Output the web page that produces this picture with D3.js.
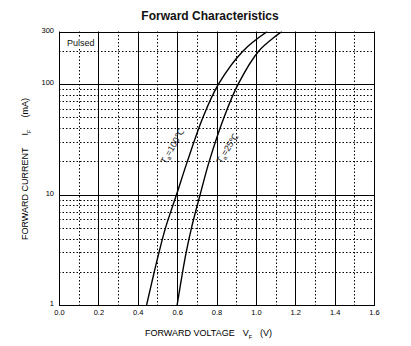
<!DOCTYPE html>
<html>
<head>
<meta charset="utf-8">
<script src="https://cdn.jsdelivr.net/npm/d3@7"></script>
<style>
  html, body { margin: 0; padding: 0; background: #fff; }
  svg { display: block; font-family: "Liberation Sans", Arial, sans-serif; }
</style>
</head>
<body>
<svg id="chart" width="411" height="346"></svg>
<script>
// Forward voltage (V) vs forward current (mA), pulsed measurement
const current100 = [1, 2, 3, 5, 10, 20, 50, 100, 200, 300];
const voltage100 = [0.445, 0.484, 0.508, 0.541, 0.597, 0.652, 0.731, 0.810, 0.935, 1.058];
const current25 = [1, 2, 3, 5, 10, 20, 50, 100, 200, 300];
const voltage25 = [0.600, 0.628, 0.646, 0.673, 0.717, 0.763, 0.838, 0.910, 1.015, 1.132];

const xTicks = [0.0, 0.2, 0.4, 0.6, 0.8, 1.0, 1.2, 1.4, 1.6];
const xMinor = [0.1, 0.3, 0.5, 0.7, 0.9, 1.1, 1.3, 1.5];
const yTicks = [1, 10, 100, 300];
const yMajor = [10, 100];
const yMinor = [2, 3, 4, 5, 6, 7, 8, 9, 20, 30, 40, 50, 60, 70, 80, 90, 200];

const svg = d3.select("#chart");
const plotLeft = 59, plotRight = 374, plotTop = 31.5, plotBottom = 305;

const x = d3.scaleLinear().domain([0, 1.6]).range([plotLeft, plotRight]);
const y = d3.scaleLog().domain([1, 300]).range([plotBottom, plotTop]);

// dotted minor grid
const grid = svg.append("g");
grid.selectAll("line.vminor").data(xMinor).join("line")
  .attr("x1", d => Math.round(x(d)) + 0.5).attr("x2", d => Math.round(x(d)) + 0.5)
  .attr("y1", plotTop).attr("y2", plotBottom)
  .attr("stroke", "#000").attr("stroke-width", 1).attr("stroke-dasharray", "1.5,2");
grid.selectAll("line.hminor").data(yMinor).join("line")
  .attr("x1", plotLeft).attr("x2", plotRight)
  .attr("y1", d => Math.round(y(d)) + 0.5).attr("y2", d => Math.round(y(d)) + 0.5)
  .attr("stroke", "#000").attr("stroke-width", 1).attr("stroke-dasharray", "1.5,2");

// solid major grid
grid.selectAll("line.vmajor").data(xTicks).join("line")
  .attr("x1", d => Math.round(x(d)) + 0.5).attr("x2", d => Math.round(x(d)) + 0.5)
  .attr("y1", plotTop).attr("y2", plotBottom)
  .attr("stroke", "#000").attr("stroke-width", 1);
grid.selectAll("line.hmajor").data(yMajor).join("line")
  .attr("x1", plotLeft).attr("x2", plotRight)
  .attr("y1", d => Math.round(y(d)) + 0.5).attr("y2", d => Math.round(y(d)) + 0.5)
  .attr("stroke", "#000").attr("stroke-width", 1);

// frame
svg.append("rect")
  .attr("x", plotLeft + 0.5).attr("y", Math.round(plotTop) + 0.5)
  .attr("width", plotRight - plotLeft).attr("height", plotBottom - Math.round(plotTop))
  .attr("fill", "none").attr("stroke", "#000").attr("stroke-width", 1);

// axes (labels only)
const xAxis = svg.append("g").attr("transform", `translate(0,${plotBottom})`)
  .call(d3.axisBottom(x).tickValues(xTicks).tickSize(0).tickPadding(5).tickFormat(d3.format(".1f")));
const yAxis = svg.append("g").attr("transform", `translate(${plotLeft},0)`)
  .call(d3.axisLeft(y).tickValues(yTicks).tickSize(0).tickPadding(5).tickFormat(d3.format("d")));
[xAxis, yAxis].forEach(a => {
  a.select(".domain").remove();
  a.selectAll("text").attr("font-size", 7.5).attr("fill", "#000")
    .attr("font-family", "'Liberation Sans', Arial, sans-serif");
});
yAxis.selectAll("text").attr("dy", "0.1em");

// curves
const clipId = "plotclip";
svg.append("clipPath").attr("id", clipId).append("rect")
  .attr("x", plotLeft).attr("y", plotTop).attr("width", plotRight - plotLeft).attr("height", plotBottom - plotTop);
const line = d3.line().x(d => x(d[0])).y(d => y(d[1])).curve(d3.curveCatmullRom.alpha(0.5));
const curves = [
  d3.zip(voltage100, current100),
  d3.zip(voltage25, current25)
];
svg.append("g").attr("clip-path", `url(#${clipId})`)
  .selectAll("path").data(curves).join("path")
  .attr("d", line)
  .attr("fill", "none").attr("stroke", "#000").attr("stroke-width", 1.4);

// curve labels
function tempLabel(cx, cy, angle, temp) {
  const t = svg.append("text")
    .attr("transform", `translate(${cx},${cy}) rotate(${angle})`)
    .attr("text-anchor", "middle").attr("font-size", 9).attr("fill", "#222");
  t.append("tspan").text("T");
  t.append("tspan").attr("font-size", 6).attr("dy", 2).text("a");
  t.append("tspan").attr("dy", -2).text("=" + temp + "\u2103");
}
tempLabel(175, 148, -60, 100);
tempLabel(230, 150, -58, 25);

// Pulsed note
svg.append("rect").attr("x", 66).attr("y", 37).attr("width", 32).attr("height", 10).attr("fill", "#fff");
svg.append("text").attr("x", 67).attr("y", 45.5).attr("font-size", 9).attr("fill", "#111").text("Pulsed");

// title
svg.append("text").attr("x", 210).attr("y", 20).attr("text-anchor", "middle")
  .attr("font-size", 12).attr("font-weight", "bold").attr("fill", "#111")
  .text("Forward Characteristics");

// x axis title
const xt = svg.append("text").attr("x", 145).attr("y", 336).attr("font-size", 9).attr("fill", "#000");
xt.append("tspan").text("FORWARD VOLTAGE");
xt.append("tspan").attr("dx", 8).text("V");
xt.append("tspan").attr("font-size", 5.5).attr("dy", 2.5).text("F");
xt.append("tspan").attr("dy", -2.5).attr("dx", 8).text("(V)");

// y axis title
const yt = svg.append("text").attr("transform", "translate(28,240) rotate(-90)")
  .attr("font-size", 9).attr("fill", "#000");
yt.append("tspan").text("FORWARD CURRENT");
yt.append("tspan").attr("dx", 12).text("I");
yt.append("tspan").attr("font-size", 5.5).attr("dy", 2.5).text("F");
yt.append("tspan").attr("dy", -2.5).attr("dx", 12).text("(mA)");
</script>
</body>
</html>
